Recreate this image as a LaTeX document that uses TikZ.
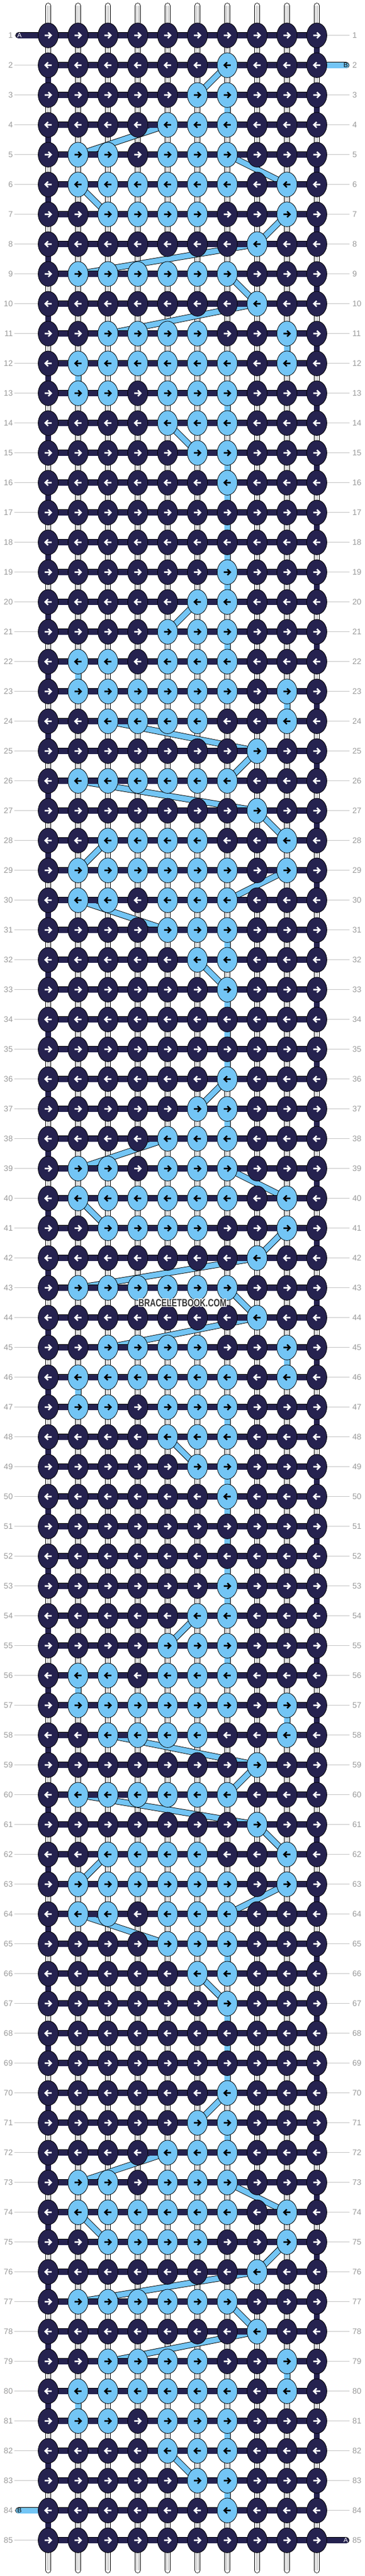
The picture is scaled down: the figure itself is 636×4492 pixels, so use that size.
\documentclass[tikz,border=0pt]{standalone}
\usepackage{fontspec}
\setmainfont{Liberation Sans}
\usetikzlibrary{shapes.geometric}
\definecolor{navy}{HTML}{25224F}
\definecolor{sky}{HTML}{73C5F5}
\definecolor{lbl}{HTML}{9A9A9A}
\definecolor{lblline}{HTML}{C4C4C4}
\definecolor{strgrey}{HTML}{B0B0B0}
\definecolor{wmark}{HTML}{363636}
\newcommand\setlights[2]{\foreach \kc in {#2}{\expandafter\xdef\csname LK#1-\kc\endcsname{1}}}
\setlights{2}{7}
\setlights{3}{6,7}
\setlights{4}{5,6,7}
\setlights{5}{2,3,5,6,7}
\setlights{6}{2,3,4,5,6,7,9}
\setlights{7}{3,4,5,6,9}
\setlights{8}{8}
\setlights{9}{2,3,4,5,6,7}
\setlights{10}{8}
\setlights{11}{3,4,5,6,9}
\setlights{12}{2,3,4,5,6,7,9}
\setlights{13}{2,3,5,6,7}
\setlights{14}{5,6,7}
\setlights{15}{6,7}
\setlights{16}{7}
\setlights{19}{7}
\setlights{20}{6,7}
\setlights{21}{5,6,7}
\setlights{22}{2,3,5,6,7}
\setlights{23}{2,3,4,5,6,7,9}
\setlights{24}{3,4,5,6,9}
\setlights{25}{8}
\setlights{26}{2,3,4,5,6,7}
\setlights{27}{8}
\setlights{28}{3,4,5,6,9}
\setlights{29}{2,3,4,5,6,7,9}
\setlights{30}{2,3,5,6,7}
\setlights{31}{5,6,7}
\setlights{32}{6,7}
\setlights{33}{7}
\setlights{36}{7}
\setlights{37}{6,7}
\setlights{38}{5,6,7}
\setlights{39}{2,3,5,6,7}
\setlights{40}{2,3,4,5,6,7,9}
\setlights{41}{3,4,5,6,9}
\setlights{42}{8}
\setlights{43}{2,3,4,5,6,7}
\setlights{44}{8}
\setlights{45}{3,4,5,6,9}
\setlights{46}{2,3,4,5,6,7,9}
\setlights{47}{2,3,5,6,7}
\setlights{48}{5,6,7}
\setlights{49}{6,7}
\setlights{50}{7}
\setlights{53}{7}
\setlights{54}{6,7}
\setlights{55}{5,6,7}
\setlights{56}{2,3,5,6,7}
\setlights{57}{2,3,4,5,6,7,9}
\setlights{58}{3,4,5,6,9}
\setlights{59}{8}
\setlights{60}{2,3,4,5,6,7}
\setlights{61}{8}
\setlights{62}{3,4,5,6,9}
\setlights{63}{2,3,4,5,6,7,9}
\setlights{64}{2,3,5,6,7}
\setlights{65}{5,6,7}
\setlights{66}{6,7}
\setlights{67}{7}
\setlights{70}{7}
\setlights{71}{6,7}
\setlights{72}{5,6,7}
\setlights{73}{2,3,5,6,7}
\setlights{74}{2,3,4,5,6,7,9}
\setlights{75}{3,4,5,6,9}
\setlights{76}{8}
\setlights{77}{2,3,4,5,6,7}
\setlights{78}{8}
\setlights{79}{3,4,5,6,9}
\setlights{80}{2,3,4,5,6,7,9}
\setlights{81}{2,3,5,6,7}
\setlights{82}{5,6,7}
\setlights{83}{6,7}
\setlights{84}{7}
\tikzset{
  knotD/.style={ellipse, draw=black, line width=0.8pt, fill=navy, minimum width=35pt, minimum height=43.4pt, inner sep=0pt},
  knotL/.style={knotD, fill=sky},
  arrw/.style={line width=2.6pt, line join=miter, line cap=butt},
  rowlbl/.style={text=lbl, font=\fontsize{14}{14}\selectfont, inner sep=0pt},
  endlbl/.style={font=\fontsize{11.5}{12}\selectfont, inner sep=0pt},
  wmstyle/.style={font=\bfseries\fontsize{18.5}{19}\selectfont, inner sep=0pt},
  strout/.style={line width=10pt, black, line cap=round},
  strin/.style={line width=8.4pt, white, line cap=round},
  strmid/.style={line width=3.6pt, strgrey},
  strcore/.style={line width=1.4pt, white},
  barout/.style={line width=11.2pt, black},
  barin/.style={line width=9.6pt, navy},
  edgeout/.style={line width=10.7pt, black},
  edgein/.style={line width=9.1pt, navy},
  bout/.style={line width=11pt, black},
  bin/.style={line width=9.2pt, sky},
  lblln/.style={line width=1.2pt, lblline}
}
\newcommand\knotarrow[3]{\draw[arrw,draw=#3] (#1) ++({-6.2*#2},0) -- ++({11.4*#2},0) ++({-5*#2},5) -- ++({5*#2},-5) -- ++({-5*#2},-5);}
\begin{document}
\begin{tikzpicture}[x=1pt,y=-1pt]
\fill[white] (0,0) rectangle (636,4492);
\useasboundingbox (0,0) rectangle (636,4492);
% grid coordinates
\foreach \r in {1,...,85}{
  \foreach \kc in {1,...,10}{
    \coordinate (p\r-\kc) at ({84+52*(\kc-1)},{61.7+52*(\r-1)});
  }
  \coordinate (ll\r) at (25,{61.7+52*(\r-1)});
  \coordinate (lr\r) at (608.5,{61.7+52*(\r-1)});
}
% vertical white strings
\foreach \kc in {1,...,10}{
  \coordinate (st\kc) at ({84+52*(\kc-1)},10);
  \coordinate (sb\kc) at ({84+52*(\kc-1)},4482);
  \draw[strout] (st\kc) -- (sb\kc);
  \draw[strin] (st\kc) -- (sb\kc);
  \draw[strmid] (st\kc) -- (sb\kc);
  \draw[strcore] (st\kc) -- (sb\kc);
}
% row labels and guide lines
\foreach \r in {1,...,85}{
  \draw[lblln] (ll\r) -- (p\r-1);
  \draw[lblln] (p\r-10) -- (lr\r);
  \node[rowlbl, anchor=east] (ln\r) at (22.5,{61.7+52*(\r-1)}) {\r};
  \node[rowlbl, anchor=west] (rn\r) at (614,{61.7+52*(\r-1)}) {\r};
}
% light thread (B) connectors
\foreach \ra/\ca/\rb/\cb in {2/7/3/6, 3/7/4/7, 4/5/5/2, 5/7/6/9, 6/2/7/3, 7/9/8/8, 8/8/9/2, 9/7/10/8, 10/8/11/3, 11/9/12/9, 12/2/13/2, 13/7/14/7, 14/5/15/6, 15/7/16/7, 16/7/19/7, 19/7/20/7, 20/6/21/5, 21/7/22/7, 22/2/23/2, 23/9/24/9, 24/3/25/8, 25/8/26/7, 26/2/27/8, 27/8/28/9, 28/3/29/2, 29/9/30/7, 30/2/31/5, 31/7/32/7, 32/6/33/7, 33/7/36/7, 36/7/37/6, 37/7/38/7, 38/5/39/2, 39/7/40/9, 40/2/41/3, 41/9/42/8, 42/8/43/2, 43/7/44/8, 44/8/45/3, 45/9/46/9, 46/2/47/2, 47/7/48/7, 48/5/49/6, 49/7/50/7, 50/7/53/7, 53/7/54/7, 54/6/55/5, 55/7/56/7, 56/2/57/2, 57/9/58/9, 58/3/59/8, 59/8/60/7, 60/2/61/8, 61/8/62/9, 62/3/63/2, 63/9/64/7, 64/2/65/5, 65/7/66/7, 66/6/67/7, 67/7/70/7, 70/7/71/6, 71/7/72/7, 72/5/73/2, 73/7/74/9, 74/2/75/3, 75/9/76/8, 76/8/77/2, 77/7/78/8, 78/8/79/3, 79/9/80/9, 80/2/81/2, 81/7/82/7, 82/5/83/6, 83/7/84/7}{
  \draw[bout] (p\ra-\ca) -- (p\rb-\cb);
  \draw[bin] (p\ra-\ca) -- (p\rb-\cb);
}
% thread ends
\coordinate (aStart) at (32.5,61.7);
\coordinate (bStart) at (603,113.7);
\coordinate (bEnd) at (32.5,4377.7);
\coordinate (aEnd) at (603,4429.7);
\draw[barout, line cap=round] (aStart) -- (p1-1);
\draw[barin, line cap=round] (aStart) -- (p1-1);
\draw[bout, line width=11.2pt, line cap=round] (p2-10) -- (bStart);
\draw[bin, line width=9.6pt, line cap=round] (p2-10) -- (bStart);
\draw[bout, line width=11.2pt, line cap=round] (bEnd) -- (p84-1);
\draw[bin, line width=9.6pt, line cap=round] (bEnd) -- (p84-1);
\draw[barout, line cap=round] (p85-10) -- (aEnd);
\draw[barin, line cap=round] (p85-10) -- (aEnd);
% dark working thread: row bars and edge turns
\foreach \r [evaluate=\r as \rn using int(\r+1)] in {1,...,85}{
  \draw[barout] (p\r-1) -- (p\r-10);
  \draw[barin] (p\r-1) -- (p\r-10);
  \ifnum\r<85
    \ifodd\r
      \draw[edgeout] (p\r-10) -- (p\rn-10);
      \draw[edgein] (p\r-10) -- (p\rn-10);
    \else
      \draw[edgeout] (p\r-1) -- (p\rn-1);
      \draw[edgein] (p\r-1) -- (p\rn-1);
    \fi
  \fi
}
% knots
\foreach \r in {1,...,85}{
  \ifodd\r\def\dd{1}\else\def\dd{-1}\fi
  \foreach \kc in {1,...,10}{
    \ifcsname LK\r-\kc\endcsname
      \node[knotL] (k\r-\kc) at (p\r-\kc) {};
      \knotarrow{k\r-\kc.center}{\dd}{black}
    \else
      \node[knotD] (k\r-\kc) at (p\r-\kc) {};
      \knotarrow{k\r-\kc.center}{\dd}{white}
    \fi
  }
}
% end letters
\node[endlbl, text=white] (lblA1) at (34,61.7) {A};
\node[endlbl, text=black] (lblB1) at (602.5,113.7) {B};
\node[endlbl, text=black] (lblB2) at (34,4377.7) {B};
\node[endlbl, text=white] (lblA2) at (602.5,4429.7) {A};
% watermark
\foreach \dx/\dy [count=\i] in {1/0,-1/0,0/1,0/-1,1/1,1/-1,-1/1,-1/-1}{
  \node[wmstyle, text=white] (wmh\i) at ({318+\dx},{2271.7+\dy}) {\scalebox{0.75}[1]{BRACELETBOOK.COM}};
}
\node[wmstyle, text=wmark] (wm) at (318,2271.7) {\scalebox{0.75}[1]{BRACELETBOOK.COM}};
\end{tikzpicture}
\end{document}
